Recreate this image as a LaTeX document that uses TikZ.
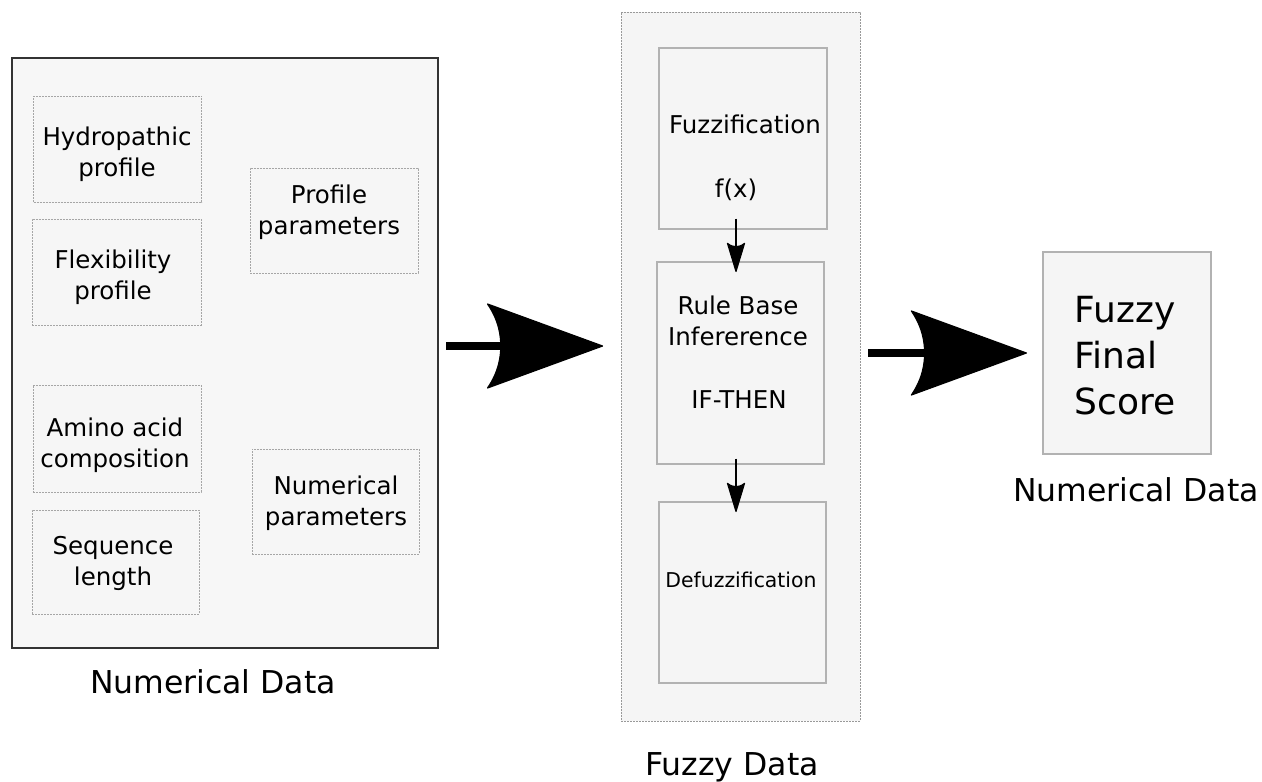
\documentclass[tikz,border=0pt]{standalone}
\usepackage{fontspec}
\setmainfont{DejaVu Sans}
\usetikzlibrary{arrows.meta}

% Swept arrow head with a concave, curved back
\pgfdeclarearrow{
  name = SweptHead,
  parameters = {\the\pgfarrowlength,\the\pgfarrowwidth},
  setup code = {
    \pgfarrowssettipend{0pt}
    \pgfarrowssetbackend{-\pgfarrowlength}
    \pgfarrowssetlineend{-0.8\pgfarrowlength}
    \pgfarrowssavethe\pgfarrowlength
    \pgfarrowssavethe\pgfarrowwidth
  },
  drawing code = {
    \pgfsetroundjoin
    \pgfsetlinewidth{1.2pt}
    \pgfpathmoveto{\pgfqpoint{0pt}{0pt}}
    \pgfpathlineto{\pgfqpoint{-\pgfarrowlength}{0.5\pgfarrowwidth}}
    \pgfpathcurveto{\pgfqpoint{-0.9\pgfarrowlength}{0.3\pgfarrowwidth}}
                   {\pgfqpoint{-0.885\pgfarrowlength}{0.12\pgfarrowwidth}}
                   {\pgfqpoint{-0.885\pgfarrowlength}{0pt}}
    \pgfpathcurveto{\pgfqpoint{-0.885\pgfarrowlength}{-0.12\pgfarrowwidth}}
                   {\pgfqpoint{-0.9\pgfarrowlength}{-0.3\pgfarrowwidth}}
                   {\pgfqpoint{-\pgfarrowlength}{-0.5\pgfarrowwidth}}
    \pgfpathclose
    \pgfusepathqfillstroke
  },
  defaults = {length=115pt, width=84pt}
}

\begin{document}
\begin{tikzpicture}[x=1pt,y=-1pt,
  outerbox/.style={draw=black!80, line width=2pt, fill=black!3, inner sep=0pt},
  inbox/.style={draw=black!35, line width=0.9pt, dash pattern=on 2pt off 1pt,
                fill=black!3.5, inner sep=0pt, minimum width=168pt, minimum height=106pt},
  colbox/.style={draw=black!40, line width=0.9pt, dash pattern=on 2pt off 1pt,
                 fill=black!4, inner sep=0pt},
  stepbox/.style={draw=black!30, line width=1.2pt, fill=black!4, inner sep=0pt,
                  minimum width=168pt},
  txt/.style={font=\fontsize{24.5}{31}\selectfont, align=center, inner sep=0pt},
  lbl/.style={font=\fontsize{31.5}{38}\selectfont, inner sep=0pt, anchor=base},
  bigarrow/.style={line width=8.5pt, -{SweptHead[length=115pt, width=84pt]}},
  smallarrow/.style={line width=1.3pt, -{SweptHead[length=28pt, width=17pt]}},
]
\useasboundingbox[fill=white] (0,0) rectangle (1262,782);

% ---- numerical input data ----
\node[outerbox, minimum width=426pt, minimum height=590pt] (numbox) at (225,353) {};
\node[inbox] (hyd)   at (117.5,149)   {};
\node[inbox, minimum width=169pt] (flex) at (116.5,272) {};
\node[inbox, minimum height=105pt] (prof) at (334,220.5) {};
\node[inbox, minimum height=107pt] (amino) at (117,438.5) {};
\node[inbox, minimum width=167pt, minimum height=104pt] (seq) at (115.5,562) {};
\node[inbox, minimum width=167pt, minimum height=105pt] (nump) at (335.5,501.5) {};

\node[txt] (hydt)   at (117,154.5) {Hydropathic\\profile};
\node[txt] (flext)  at (113,277.5) {Flexibility\\profile};
\node[txt] (proft)  at (329,212)   {Profile\\parameters};
\node[txt] (aminot) at (115,445.5) {Amino acid\\composition};
\node[txt] (seqt)   at (113,563)   {Sequence\\length};
\node[txt] (numpt)  at (336,503.5) {Numerical\\parameters};

\node[lbl] (numlbl) at (213,693) {Numerical Data};

% ---- fuzzy processing column ----
\node[colbox, minimum width=239pt, minimum height=709pt] (fuzzcol) at (740.5,366.5) {};
\node[stepbox, minimum height=181pt] (fuzz) at (743,138.5) {};
\node[stepbox, minimum width=167pt, minimum height=202pt] (rule) at (740.5,363) {};
\node[stepbox, minimum width=167pt, minimum height=181pt] (defuzz) at (742.5,592.5) {};

\node[txt, anchor=base] (fuzzt) at (745,133) {Fuzzification};
\node[txt, anchor=base] (fxt)   at (736,197) {f(x)};
\node[txt] (rulet) at (738,320.5) {Rule Base\\Infererence};
\node[txt, anchor=base] (ift) at (739,408) {IF-THEN};
\node[txt, font=\fontsize{20.4}{24}\selectfont, anchor=base] (deft) at (741,587) {Defuzzification};

\node[lbl] (fuzzlbl) at (732,775) {Fuzzy Data};

\draw[smallarrow, shorten <=-11pt, shorten >=-10pt]
  ([xshift=-7pt]fuzz.south) -- ([xshift=-7pt]fuzz.south |- rule.north);
\draw[smallarrow, shorten <=-6pt, shorten >=-10pt]
  ([xshift=-4.5pt]rule.south) -- ([xshift=-4.5pt]rule.south |- defuzz.north);

% ---- final score ----
\node[stepbox, minimum height=202pt] (final) at (1127,353) {};
\node[font=\fontsize{36}{46}\selectfont, align=left, inner sep=0pt, anchor=west]
  (finalt) at (1074.5,356) {Fuzzy\\Final\\Score};
\node[lbl] (finlbl) at (1136,501) {Numerical Data};

% ---- main flow ----
\draw[bigarrow, shorten <=7pt, shorten >=18pt]
  ([yshift=7pt]numbox.east) -- ([yshift=7pt]numbox.east -| fuzzcol.west);
\draw[bigarrow, shorten <=8pt, shorten >=16pt]
  (fuzzcol.east |- final.west) -- (final.west);
\end{tikzpicture}
\end{document}
